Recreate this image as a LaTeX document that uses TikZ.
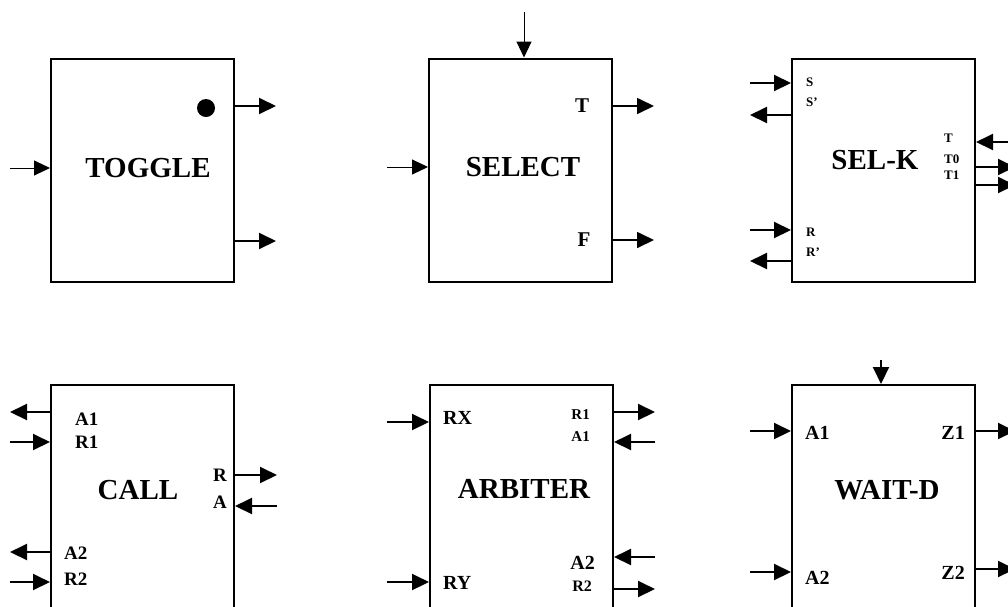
\documentclass[tikz,border=0pt]{standalone}
\usepackage{fontspec}
\setmainfont{Liberation Serif}
\usetikzlibrary{arrows.meta}
\tikzset{
  box/.style={draw, line width=2pt, minimum width=183pt, minimum height=223pt, inner sep=0pt},
  arr/.style={line width=2pt, -{Triangle[length=17pt,width=16pt]}},
  thinarr/.style={line width=1pt, -{Triangle[length=16pt,width=15pt]}},
  title/.style={font=\fontsize{29}{29}\selectfont\bfseries, inner sep=0pt},
  lab/.style={font=\fontsize{19}{19}\selectfont\bfseries, inner sep=0pt},
  slab/.style={font=\fontsize{13}{13}\selectfont\bfseries, inner sep=0pt},
}
\begin{document}
\begin{tikzpicture}[x=1pt,y=-1pt]
\clip (0,0) rectangle (1008,606);
\fill[white] (0,0) rectangle (1008,606);

% ---------- TOGGLE ----------
\node[box] (tog) at (142.5,170.5) {};
\node[title] (togt) at (148,168) {TOGGLE};
\fill (206,108) circle (9);
\coordinate (tog-i) at (10,168);
\coordinate (tog-o1) at (276,106);
\coordinate (tog-o2) at (276,241);
\draw[thinarr] (tog-i) -- (tog-i -| tog.west);
\draw[arr] (tog-o1 -| tog.east) -- (tog-o1);
\draw[arr] (tog-o2 -| tog.east) -- (tog-o2);

% ---------- SELECT ----------
\node[box] (sel) at (520.5,170) {};
\node[title] (selt) at (523,167) {SELECT};
\node[lab, font=\fontsize{21}{21}\selectfont\bfseries] (selT) at (582,106) {T};
\node[lab, font=\fontsize{21}{21}\selectfont\bfseries] (selF) at (584,240) {F};
\coordinate (sel-top) at (524,12);
\coordinate (sel-i) at (387,167);
\coordinate (sel-oT) at (654,106);
\coordinate (sel-oF) at (654,240);
\draw[thinarr] (sel-top) -- (sel-top |- sel.north);
\draw[thinarr] (sel-i) -- (sel-i -| sel.west);
\draw[arr, line width=1.7pt] (sel-oT -| sel.east) -- (sel-oT);
\draw[arr, line width=1.7pt] (sel-oF -| sel.east) -- (sel-oF);

% ---------- SEL-K ----------
\node[box] (selk) at (883.5,170) {};
\node[title] (selkt) at (875,160) {SEL-K};
\node[slab, anchor=west] (kS) at (806,82) {S};
\node[slab, anchor=west] (kSp) at (806,102) {S'};
\node[slab, anchor=west] (kR) at (806,232) {R};
\node[slab, anchor=west] (kRp) at (806,252) {R'};
\node[slab, anchor=west] (kT) at (944,138) {T};
\node[slab, anchor=west] (kT0) at (944,159) {T0};
\node[slab, anchor=west] (kT1) at (944,175) {T1};
\coordinate (k-S) at (750,83);
\coordinate (k-Sp) at (750,115);
\coordinate (k-R) at (750,230);
\coordinate (k-Rp) at (750,261);
\coordinate (k-T) at (1015,142);
\coordinate (k-T0) at (1015,167);
\coordinate (k-T1) at (1015,185);
\draw[arr] (k-S) -- (k-S -| selk.west);
\draw[arr] (k-Sp -| selk.west) -- (k-Sp);
\draw[arr] (k-R) -- (k-R -| selk.west);
\draw[arr] (k-Rp -| selk.west) -- (k-Rp);
\draw[arr] (k-T) -- (k-T -| selk.east);
\draw[arr] (k-T0 -| selk.east) -- (k-T0);
\draw[arr] (k-T1 -| selk.east) -- (k-T1);

% ---------- CALL ----------
\node[box] (call) at (142.5,496.5) {};
\node[title] (callt) at (138,490) {CALL};
\node[lab, anchor=west] (cA1) at (75,419) {A1};
\node[lab, anchor=west] (cR1) at (75,442) {R1};
\node[lab, anchor=west] (cA2) at (64,553) {A2};
\node[lab, anchor=west] (cR2) at (64,579) {R2};
\node[lab, anchor=east] (cR) at (227,475) {R};
\node[lab, anchor=east] (cA) at (227,502) {A};
\coordinate (c-A1) at (10,412);
\coordinate (c-R1) at (10,442);
\coordinate (c-A2) at (10,552);
\coordinate (c-R2) at (10,582);
\coordinate (c-R) at (277,475);
\coordinate (c-A) at (277,506);
\draw[arr] (c-A1 -| call.west) -- (c-A1);
\draw[arr] (c-R1) -- (c-R1 -| call.west);
\draw[arr] (c-A2 -| call.west) -- (c-A2);
\draw[arr] (c-R2) -- (c-R2 -| call.west);
\draw[arr] (c-R -| call.east) -- (c-R);
\draw[arr] (c-A) -- (c-A -| call.east);

% ---------- ARBITER ----------
\node[box] (arb) at (521.5,496.5) {};
\node[title] (arbt) at (524,489) {ARBITER};
\node[lab, font=\fontsize{20}{20}\selectfont\bfseries, anchor=west] (aRX) at (443,418) {RX};
\node[lab, font=\fontsize{20}{20}\selectfont\bfseries, anchor=west] (aRY) at (443,583) {RY};
\node[lab, font=\fontsize{15}{15}\selectfont\bfseries, anchor=east] (aR1) at (590,415) {R1};
\node[lab, font=\fontsize{15}{15}\selectfont\bfseries, anchor=east] (aA1) at (590,437) {A1};
\node[lab, font=\fontsize{20}{20}\selectfont\bfseries, anchor=east] (aA2) at (595,563) {A2};
\node[lab, font=\fontsize{16}{16}\selectfont\bfseries, anchor=east] (aR2) at (592,586) {R2};
\coordinate (a-RX) at (387,422);
\coordinate (a-RY) at (387,582);
\coordinate (a-R1) at (655,412);
\coordinate (a-A1) at (655,442);
\coordinate (a-A2) at (655,557);
\coordinate (a-R2) at (655,589);
\draw[arr] (a-RX) -- (a-RX -| arb.west);
\draw[arr] (a-RY) -- (a-RY -| arb.west);
\draw[arr] (a-R1 -| arb.east) -- (a-R1);
\draw[arr] (a-A1) -- (a-A1 -| arb.east);
\draw[arr] (a-A2) -- (a-A2 -| arb.east);
\draw[arr] (a-R2 -| arb.east) -- (a-R2);

% ---------- WAIT-D ----------
\node[box] (wait) at (883.5,496.5) {};
\node[title] (waitt) at (887,490) {WAIT-D};
\node[lab, font=\fontsize{20}{20}\selectfont\bfseries, anchor=west] (wA1) at (805,433) {A1};
\node[lab, font=\fontsize{20}{20}\selectfont\bfseries, anchor=west] (wA2) at (805,578) {A2};
\node[lab, font=\fontsize{20}{20}\selectfont\bfseries, anchor=east] (wZ1) at (965,433) {Z1};
\node[lab, font=\fontsize{20}{20}\selectfont\bfseries, anchor=east] (wZ2) at (965,573) {Z2};
\coordinate (w-top) at (881,360);
\coordinate (w-A1) at (750,431);
\coordinate (w-A2) at (750,572);
\coordinate (w-Z1) at (1015,431);
\coordinate (w-Z2) at (1015,569);
\draw[arr] (w-top) -- (w-top |- wait.north);
\draw[arr] (w-A1) -- (w-A1 -| wait.west);
\draw[arr] (w-A2) -- (w-A2 -| wait.west);
\draw[arr] (w-Z1 -| wait.east) -- (w-Z1);
\draw[arr] (w-Z2 -| wait.east) -- (w-Z2);
\end{tikzpicture}
\end{document}
